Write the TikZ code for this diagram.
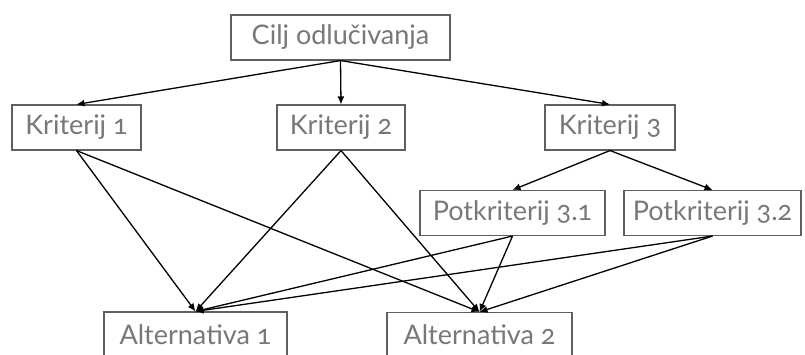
\documentclass[tikz,border=0pt]{standalone}
\usepackage{fontspec}
\setmainfont{Lato}[Numbers=OldStyle]
\usetikzlibrary{arrows.meta}
\definecolor{boxgray}{RGB}{95,95,95}
\definecolor{txtgray}{RGB}{120,120,120}

\begin{document}
\begin{tikzpicture}[x=1pt, y=-1pt,
        box/.style={draw=boxgray, line width=1.1pt, text=txtgray, font=\fontsize{27}{30}\selectfont,
            minimum height=45pt, inner sep=0pt},
        link/.style={-{Latex[length=8pt,width=7pt]}, line width=1.3pt, black}]
                \clip (0,0) rectangle (805,354);
                \fill[white] (0,0) rectangle (805,354);

                % cilj
                \node[box, minimum width=219pt] (cilj) at (340.5,37.5) {Cilj odlučivanja};

                % kriteriji
                \node[box, minimum width=129pt] (k1) at (76.5,127.5) {Kriterij 1};
                \node[box, minimum width=128pt] (k2) at (341,127.5) {Kriterij 2};
                \node[box, minimum width=130pt] (k3) at (610,127.5) {Kriterij 3};

                % potkriteriji
                \node[box, minimum width=185pt] (p31) at (512.5,213) {Potkriterij 3.1};
                \node[box, minimum width=177pt] (p32) at (712.5,213) {Potkriterij 3.2};

                % alternative
                \node[box, minimum width=183pt] (a1) at (195.5,334.5) {Alternativa 1};
                \node[box, minimum width=185pt] (a2) at (479.5,335) {Alternativa 2};

                % cilj -> kriteriji
                \draw[link] (cilj.south) -- (k1.north);
                \draw[link] (cilj.south) -- (k2.north);
                \draw[link] (cilj.south) -- (k3.north);
                % kriterij 3 -> potkriteriji
                \draw[link] (k3.south) -- (p31.north);
                \draw[link] (k3.south) -- (p32.north);
                % prema alternativama
                \draw[link] (k1.south) -- (a1.north);
                \draw[link] (k1.south) -- (a2.north);
                \draw[link] (k2.south) -- (a1.north);
                \draw[link] (k2.south) -- (a2.north);
                \draw[link] (p31.south) -- (a1.north);
                \draw[link] (p31.south) -- (a2.north);
                \draw[link] (p32.south) -- (a1.north);
                \draw[link] (p32.south) -- (a2.north);

            \end{tikzpicture}
\end{document}
